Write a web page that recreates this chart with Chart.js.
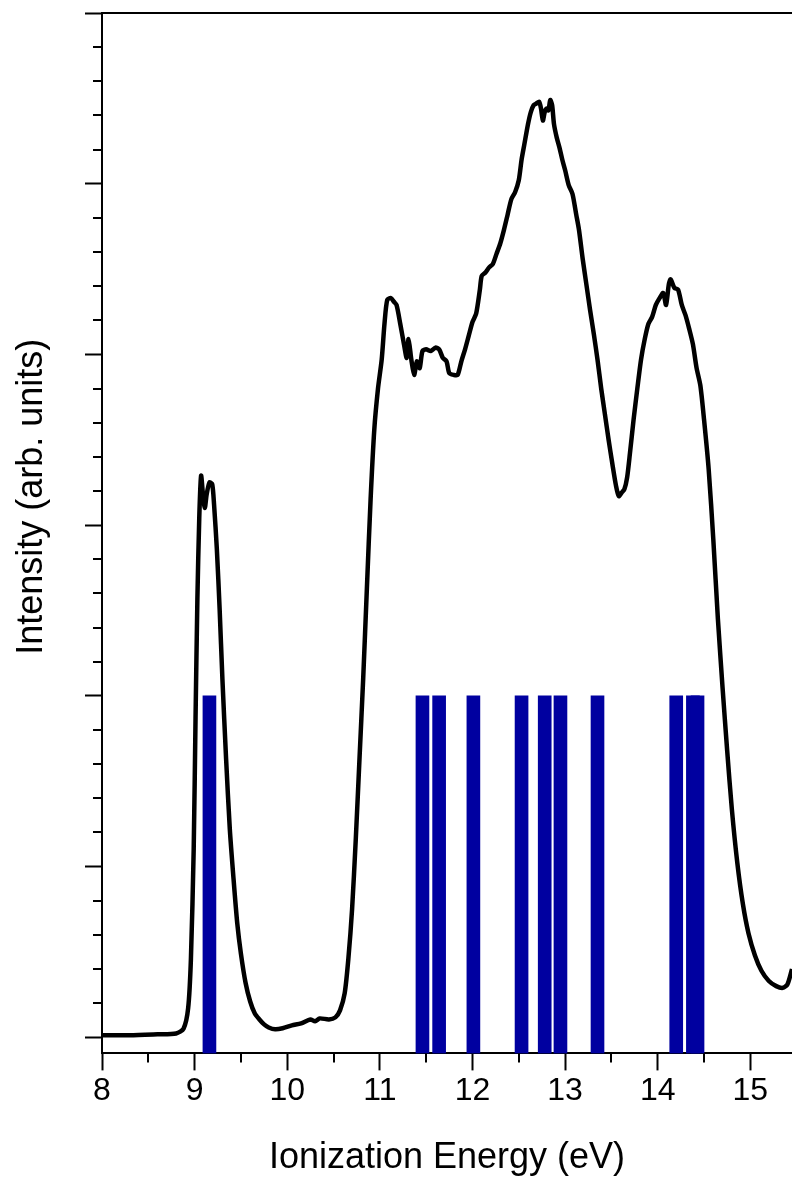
<!DOCTYPE html>
<html lang="en">
<head>
    <title>Ionization spectrum</title>
    <script src="https://cdn.jsdelivr.net/npm/chart.js"></script>
    <style>
        body {
            margin: 0;
            background: #ffffff;
        }
        #spectrum {
            display: block;
        }
    </style>
</head>
<body>
    <canvas id="spectrum" width="792" height="1180"></canvas>

    <script>
        // measured spectrum (eV / arb. units)
        const energies = [8.00, 8.30, 8.60, 8.80, 8.88, 8.93, 8.96, 8.99, 9.01, 9.03, 9.05, 9.07, 9.09, 9.11, 9.13, 9.16, 9.19, 9.21, 9.24, 9.27,
            9.30, 9.34, 9.38, 9.42, 9.46, 9.50, 9.55, 9.60, 9.65, 9.70, 9.75, 9.80, 9.87, 9.95, 10.05, 10.15, 10.25, 10.30, 10.35, 10.45,
            10.52, 10.57, 10.62, 10.66, 10.70, 10.74, 10.78, 10.82, 10.86, 10.90, 10.94, 10.98, 11.02, 11.05, 11.08, 11.12, 11.15, 11.18, 11.22, 11.26,
            11.29, 11.31, 11.34, 11.37, 11.40, 11.43, 11.46, 11.50, 11.55, 11.60, 11.64, 11.68, 11.72, 11.75, 11.80, 11.84, 11.88, 11.92, 11.96, 12.00,
            12.04, 12.08, 12.10, 12.14, 12.18, 12.22, 12.26, 12.30, 12.34, 12.38, 12.42, 12.46, 12.50, 12.53, 12.56, 12.60, 12.63, 12.66, 12.69, 12.72,
            12.74, 12.76, 12.78, 12.80, 12.82, 12.84, 12.86, 12.88, 12.91, 12.94, 12.97, 13.00, 13.04, 13.08, 13.12, 13.15, 13.19, 13.23, 13.27, 13.31,
            13.35, 13.39, 13.43, 13.47, 13.51, 13.55, 13.58, 13.61, 13.64, 13.67, 13.70, 13.74, 13.78, 13.82, 13.86, 13.90, 13.94, 13.98, 14.02, 14.06,
            14.09, 14.12, 14.14, 14.18, 14.22, 14.26, 14.30, 14.34, 14.38, 14.42, 14.46, 14.50, 14.55, 14.60, 14.65, 14.70, 14.75, 14.80, 14.86, 14.92,
            14.98, 15.05, 15.12, 15.20, 15.28, 15.35, 15.40, 15.45];
        const intensity = [0.012, 0.012, 0.018, 0.023, 0.05, 0.17, 0.46, 1.10, 1.87, 2.57, 3.04, 3.29, 3.18, 3.10, 3.18, 3.25, 3.24, 3.12, 2.86, 2.51,
            2.10, 1.63, 1.22, 0.93, 0.67, 0.49, 0.32, 0.21, 0.14, 0.105, 0.076, 0.058, 0.047, 0.053, 0.07, 0.082, 0.105, 0.094, 0.111, 0.105,
            0.117, 0.158, 0.257, 0.46, 0.75, 1.16, 1.63, 2.10, 2.63, 3.15, 3.56, 3.80, 3.97, 4.18, 4.32, 4.33, 4.31, 4.29, 4.18, 4.06,
            3.98, 4.09, 3.97, 3.88, 3.96, 3.92, 4.02, 4.03, 4.02, 4.04, 4.03, 3.98, 3.96, 3.89, 3.88, 3.88, 3.96, 4.03, 4.11, 4.19,
            4.24, 4.38, 4.46, 4.48, 4.51, 4.53, 4.59, 4.65, 4.73, 4.82, 4.91, 4.95, 5.02, 5.14, 5.23, 5.35, 5.42, 5.46, 5.47, 5.48,
            5.44, 5.37, 5.42, 5.44, 5.43, 5.49, 5.46, 5.35, 5.27, 5.21, 5.14, 5.08, 4.99, 4.94, 4.82, 4.73, 4.56, 4.41, 4.26, 4.12,
            3.97, 3.80, 3.65, 3.50, 3.36, 3.23, 3.17, 3.19, 3.21, 3.28, 3.42, 3.62, 3.80, 3.97, 4.09, 4.18, 4.22, 4.29, 4.33, 4.36,
            4.29, 4.41, 4.44, 4.39, 4.38, 4.29, 4.23, 4.15, 4.06, 3.92, 3.82, 3.62, 3.33, 2.92, 2.45, 2.05, 1.68, 1.34, 1.02, 0.78,
            0.61, 0.48, 0.39, 0.33, 0.30, 0.29, 0.31, 0.40];

        // calculated ionization energies (stick spectrum)
        const stickEnergies = [9.16, 11.46, 11.64, 12.01, 12.53, 12.78, 12.95, 13.35, 14.20, 14.38, 14.43];
        const stickHeights = [2, 2, 2, 2, 2, 2, 2, 2, 2, 2, 2];

        const xTicks = [8, 9, 10, 11, 12, 13, 14, 15];
        const xMinorTicks = [8.5, 9.5, 10.5, 11.5, 12.5, 13.5, 14.5];
        const yTicks = [0, 1, 2, 3, 4, 5, 6];
        const yMinorTicks = [0.2, 0.4, 0.6, 0.8, 1.2, 1.4, 1.6, 1.8, 2.2, 2.4, 2.6, 2.8, 3.2, 3.4, 3.6, 3.8,
            4.2, 4.4, 4.6, 4.8, 5.2, 5.4, 5.6, 5.8];

        const xMin = 8, xMax = 15.45;
        const yMin = -0.094, yMax = 6;

        const fontFamily = "'Liberation Sans', Arial, sans-serif";
        const yTitle = 'Intensity (arb. units)';

        // minor ticks, top frame line and the y title
        const framePlugin = {
            id: 'frame',
            afterDraw(chart) {
                const { ctx, chartArea, scales } = chart;
                ctx.save();
                ctx.strokeStyle = '#000';
                ctx.lineWidth = 2;
                ctx.beginPath();
                xMinorTicks.forEach(v => {
                    const px = Math.round(scales.x.getPixelForValue(v));
                    ctx.moveTo(px, chartArea.bottom);
                    ctx.lineTo(px, chartArea.bottom + 9);
                });
                yMinorTicks.forEach(v => {
                    const py = Math.round(scales.y.getPixelForValue(v));
                    ctx.moveTo(chartArea.left, py);
                    ctx.lineTo(chartArea.left - 9, py);
                });
                ctx.moveTo(chartArea.left, chartArea.top);
                ctx.lineTo(chartArea.right, chartArea.top);
                ctx.stroke();

                // y title sits a little above the middle, as in the original
                ctx.translate(32, chartArea.top + (chartArea.bottom - chartArea.top) * 0.465);
                ctx.rotate(-Math.PI / 2);
                ctx.fillStyle = '#000';
                ctx.font = '36px ' + fontFamily;
                ctx.textAlign = 'center';
                ctx.textBaseline = 'middle';
                ctx.fillText(yTitle, 0, 0);
                ctx.restore();
            }
        };

        const ctx = document.getElementById('spectrum').getContext('2d');
        const chart = new Chart(ctx, {
            type: 'bar',
            data: {
                datasets: [
                    {
                        type: 'line',
                        label: 'Experiment',
                        data: energies.map((e, i) => ({ x: e, y: intensity[i] })),
                        borderColor: '#000000',
                        borderWidth: 4.5,
                        pointRadius: 0,
                        tension: 0.25,
                        order: 0
                    },
                    {
                        type: 'bar',
                        label: 'Calculated',
                        data: stickEnergies.map((e, i) => ({ x: e, y: stickHeights[i] })),
                        backgroundColor: '#0000A0',
                        base: yMin,
                        barThickness: 13,
                        order: 1
                    }
                ]
            },
            options: {
                responsive: false,
                animation: false,
                layout: { padding: { left: 85, right: 0, top: 13, bottom: 0 } },
                plugins: {
                    legend: { display: false },
                    tooltip: { enabled: false }
                },
                scales: {
                    x: {
                        type: 'linear',
                        min: xMin,
                        max: xMax,
                        offset: false,
                        afterBuildTicks: scale => { scale.ticks = xTicks.map(v => ({ value: v })); },
                        grid: {
                            drawOnChartArea: false,
                            offset: false,
                            tickLength: 17,
                            tickWidth: 2,
                            tickColor: '#000'
                        },
                        border: { color: '#000', width: 2 },
                        ticks: {
                            color: '#000',
                            padding: 2,
                            maxRotation: 0,
                            autoSkip: false,
                            font: { family: fontFamily, size: 32 }
                        },
                        title: {
                            display: true,
                            text: 'Ionization Energy (eV)',
                            color: '#000',
                            font: { family: fontFamily, size: 36 },
                            padding: { top: 24, bottom: 0 }
                        }
                    },
                    y: {
                        type: 'linear',
                        min: yMin,
                        max: yMax,
                        afterBuildTicks: scale => { scale.ticks = yTicks.map(v => ({ value: v })); },
                        grid: {
                            drawOnChartArea: false,
                            tickLength: 17,
                            tickWidth: 2,
                            tickColor: '#000'
                        },
                        border: { color: '#000', width: 2 },
                        ticks: { display: false },
                        title: { display: false }
                    }
                }
            },
            plugins: [framePlugin]
        });
    </script>
</body>
</html>
